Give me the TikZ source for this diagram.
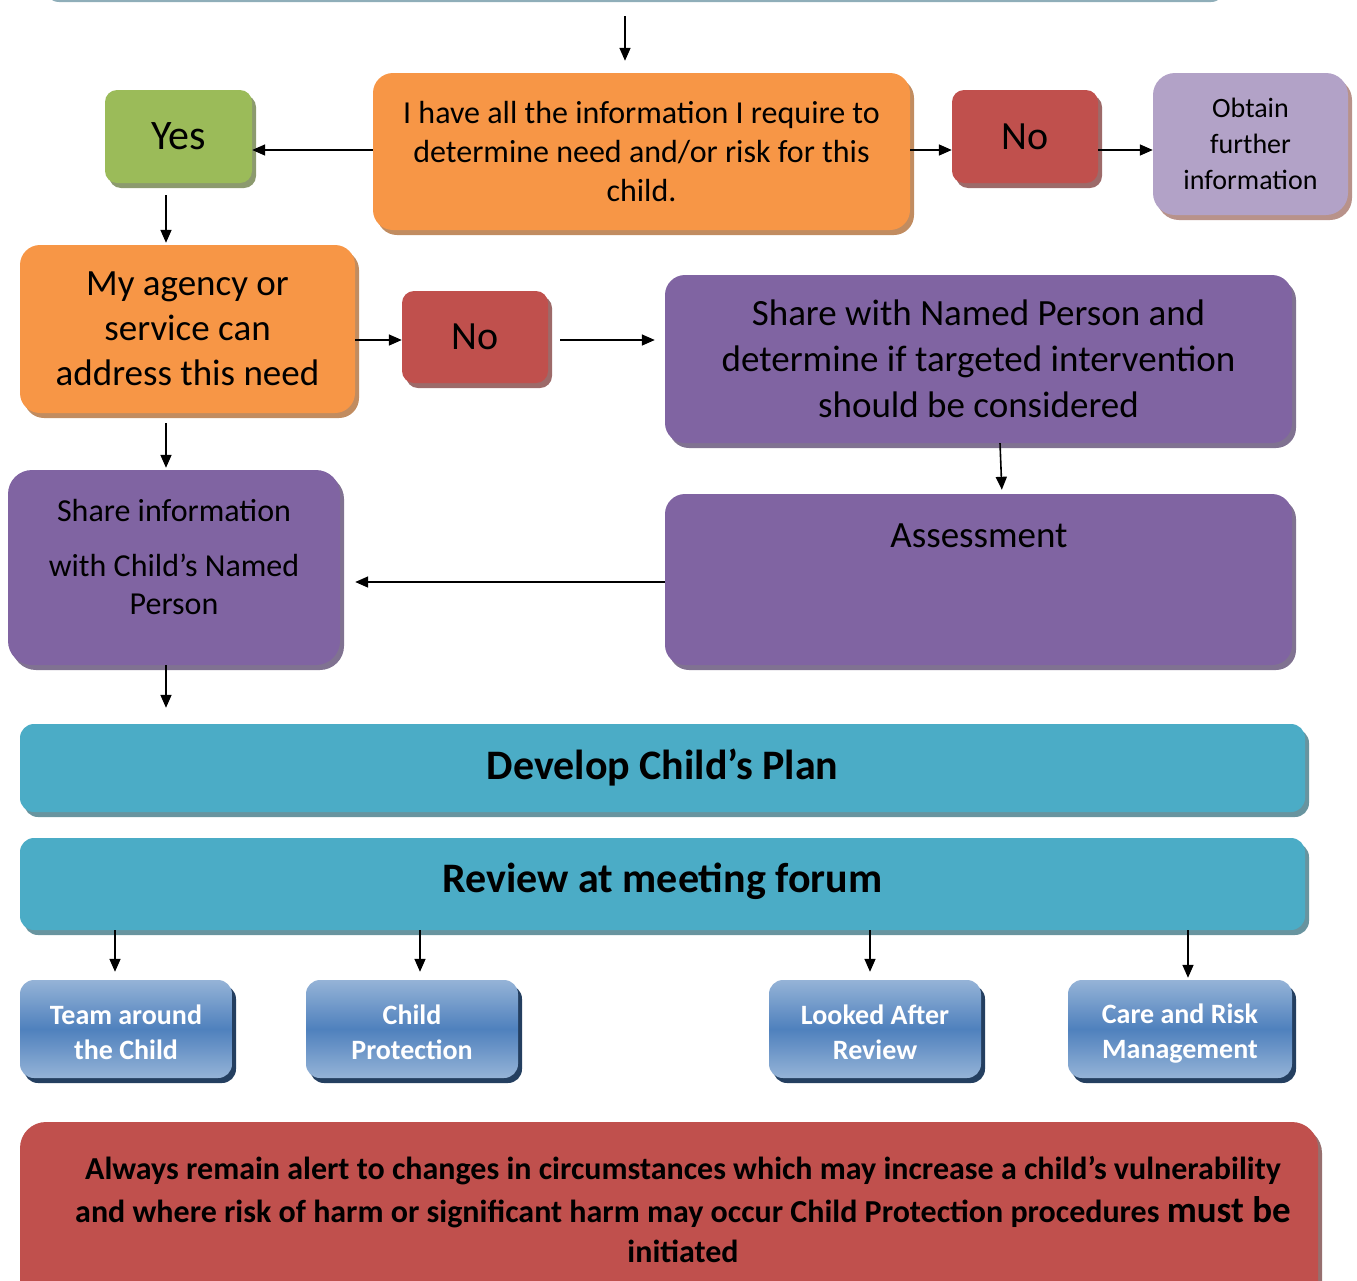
\documentclass[tikz,border=0pt]{standalone}
\usepackage{fontspec}
\setmainfont{Carlito}
\usetikzlibrary{shadows,arrows.meta}
\definecolor{cOrange}{HTML}{F79646}
\definecolor{cGreen}{HTML}{9BBB59}
\definecolor{cRed}{HTML}{C0504D}
\definecolor{cLav}{HTML}{B2A2C7}
\definecolor{cPurple}{HTML}{8064A2}
\definecolor{cTeal}{HTML}{4BACC6}
\definecolor{cBlue}{HTML}{4F81BD}
\definecolor{cBlueL}{HTML}{95B3D7}
\definecolor{cNavy}{HTML}{243F60}
\definecolor{cTopLine}{HTML}{8FAEB9}
\tikzset{
  box/.style={rounded corners=#1, align=center, inner sep=0pt, text=black},
  box/.default=20pt,
  shad/.style={drop shadow={shadow xshift=4pt, shadow yshift=-5pt, fill=#1, opacity=1}},
  arr/.style={-{Triangle[length=13pt,width=11pt]}, line width=1.6pt},
  bluebox/.style={rounded corners=14pt, align=center, inner sep=0pt, text=white,
    top color=cBlueL, bottom color=cBlueL, middle color=cBlue,
    drop shadow={shadow xshift=4pt, shadow yshift=-5pt, fill=cNavy, opacity=1},
    minimum height=98pt},
  bluetext/.style={align=center, text=white, font=\fontsize{28}{35}\selectfont\bfseries},
}
\begin{document}
\begin{tikzpicture}[x=1pt,y=-1pt]
\clip (0,0) rectangle (1357,1280);
\useasboundingbox (0,0) rectangle (1357,1280);
% partial top box
\node[rounded corners=14pt, fill=cTopLine, minimum width=1180pt, minimum height=60pt, inner sep=0pt] (top) at (635,-28) {};
% row 1
\node[box, fill=cOrange, shad=cOrange!55!gray, minimum width=537pt, minimum height=157pt,
  font=\fontsize{32}{39}\selectfont] (info) at (641.5,151.5)
  {I have all the information I require to\\determine need and/or risk for this\\child.};
\node[box=12pt, fill=cGreen, shad=cGreen!45!gray, minimum width=147pt, minimum height=93pt,
  font=\fontsize{42}{50}\selectfont] (yes) at (178.5,136.5) {Yes};
\node[box=12pt, fill=cRed, shad=cRed!45!gray, minimum width=146pt, minimum height=93pt,
  font=\fontsize{40}{48}\selectfont] (no1) at (1025,136.5) {No};
\node[box=22pt, fill=cLav, shad=cLav!55!brown, minimum width=195pt, minimum height=142pt,
  font=\fontsize{28}{36}\selectfont] (obt) at (1250.5,144) {Obtain\\further\\information};
% row 2
\node[box, fill=cOrange, shad=cOrange!55!gray, minimum width=335pt, minimum height=168pt,
  font=\fontsize{37}{45}\selectfont] (agency) at (187.5,329) {My agency or\\service can\\address this need};
\node[box=12pt, fill=cRed, shad=cRed!45!gray, minimum width=146pt, minimum height=92pt,
  font=\fontsize{40}{48}\selectfont] (no2) at (475,337) {No};
\node[box, fill=cPurple, shad=cPurple!50!gray, minimum width=627pt, minimum height=168pt,
  font=\fontsize{37}{46}\selectfont] (named) at (978.5,359) {Share with Named Person and\\determine if targeted intervention\\should be considered};
% row 3
\node[box=24pt, fill=cPurple, shad=cPurple!50!gray, minimum width=332pt, minimum height=195pt] (shareinfo) at (174,567.5) {};
\node[align=center, font=\fontsize{32}{38}\selectfont] (shareinfot) at (174,557) {Share information\\[17pt]with Child’s Named\\Person};
\node[box, fill=cPurple, shad=cPurple!50!gray, minimum width=627pt, minimum height=171pt] (assess) at (978.5,579.5) {};
\node[font=\fontsize{37}{45}\selectfont, anchor=center] (assesst) at (979,536) {Assessment};
% plan bars
\node[box=14pt, fill=cTeal, shad=cTeal!45!gray, minimum width=1285pt, minimum height=88pt,
  font=\fontsize{42}{50}\selectfont\bfseries] (plan) at (662.5,768) {Develop Child’s Plan};
\node[box=14pt, fill=cTeal, shad=cTeal!45!gray, minimum width=1285pt, minimum height=92pt] (review) at (662.5,884) {};
\node[font=\fontsize{42}{50}\selectfont\bfseries] (reviewt) at (662.5,881) {Review at meeting forum};
% blue boxes
\node[bluebox, minimum width=212pt] (tac) at (126,1029) {};
\node[bluetext] (tact) at (126,1032) {Team around\\the Child};
\node[bluebox, minimum width=212pt] (cp) at (412,1029) {};
\node[bluetext] (cpt) at (412,1032) {Child\\Protection};
\node[bluebox, minimum width=212pt] (lar) at (875,1029) {};
\node[bluetext] (lart) at (875,1032) {Looked After\\Review};
\node[bluebox, minimum width=224pt] (crm) at (1180,1029) {};
\node[bluetext] (crmt) at (1180,1034) {Care and Risk\\Management};
% bottom warning
\node[box=26pt, fill=cRed, shad=cRed!35!gray, minimum width=1298pt, minimum height=200pt] (warn) at (669,1222) {};
\node[align=center, font=\fontsize{32}{43}\selectfont\bfseries] (warnt) at (683,1209)
  {Always remain alert to changes in circumstances which may increase a child’s vulnerability\\
   and where risk of harm or significant harm may occur Child Protection procedures {\fontsize{37}{43}\selectfont must be}\\[-3pt]
   initiated};
% arrows
\draw[arr, shorten <=14pt, shorten >=12pt] (top.south -| 625,0) -- (info.north -| 625,0);
\draw[arr] (info.west |- 0,150) -- (yes.east |- 0,150);
\draw[arr] (info.east |- 0,150) -- (no1.west |- 0,150);
\draw[arr] (no1.east |- 0,150) -- (obt.west |- 0,150);
\draw[arr, shorten <=12pt, shorten >=2pt] (yes.south -| 166,0) -- (agency.north -| 166,0);
\draw[arr] (agency.east |- 0,340) -- (no2.west |- 0,340);
\draw[arr, shorten <=12pt, shorten >=10pt] (no2.east |- 0,340) -- (named.west |- 0,340);
\draw[arr, shorten >=4pt] (named.south -| 1000,0) -- (assess.north -| 1002,0);
\draw[arr, shorten >=15pt] (assess.west |- 0,582) -- (shareinfo.east |- 0,582);
\draw[arr, shorten <=10pt, shorten >=2pt] (agency.south -| 166,0) -- (shareinfo.north -| 166,0);
\draw[arr, shorten >=16pt] (shareinfo.south -| 166,0) -- (plan.north -| 166,0);
\draw[arr, shorten >=8pt] (review.south -| 115,0) -- (tac.north -| 115,0);
\draw[arr, shorten >=8pt] (review.south -| 420,0) -- (cp.north -| 420,0);
\draw[arr, shorten >=8pt] (review.south -| 870,0) -- (lar.north -| 870,0);
\draw[arr, shorten >=2pt] (review.south -| 1188,0) -- (crm.north -| 1188,0);
\end{tikzpicture}
\end{document}
